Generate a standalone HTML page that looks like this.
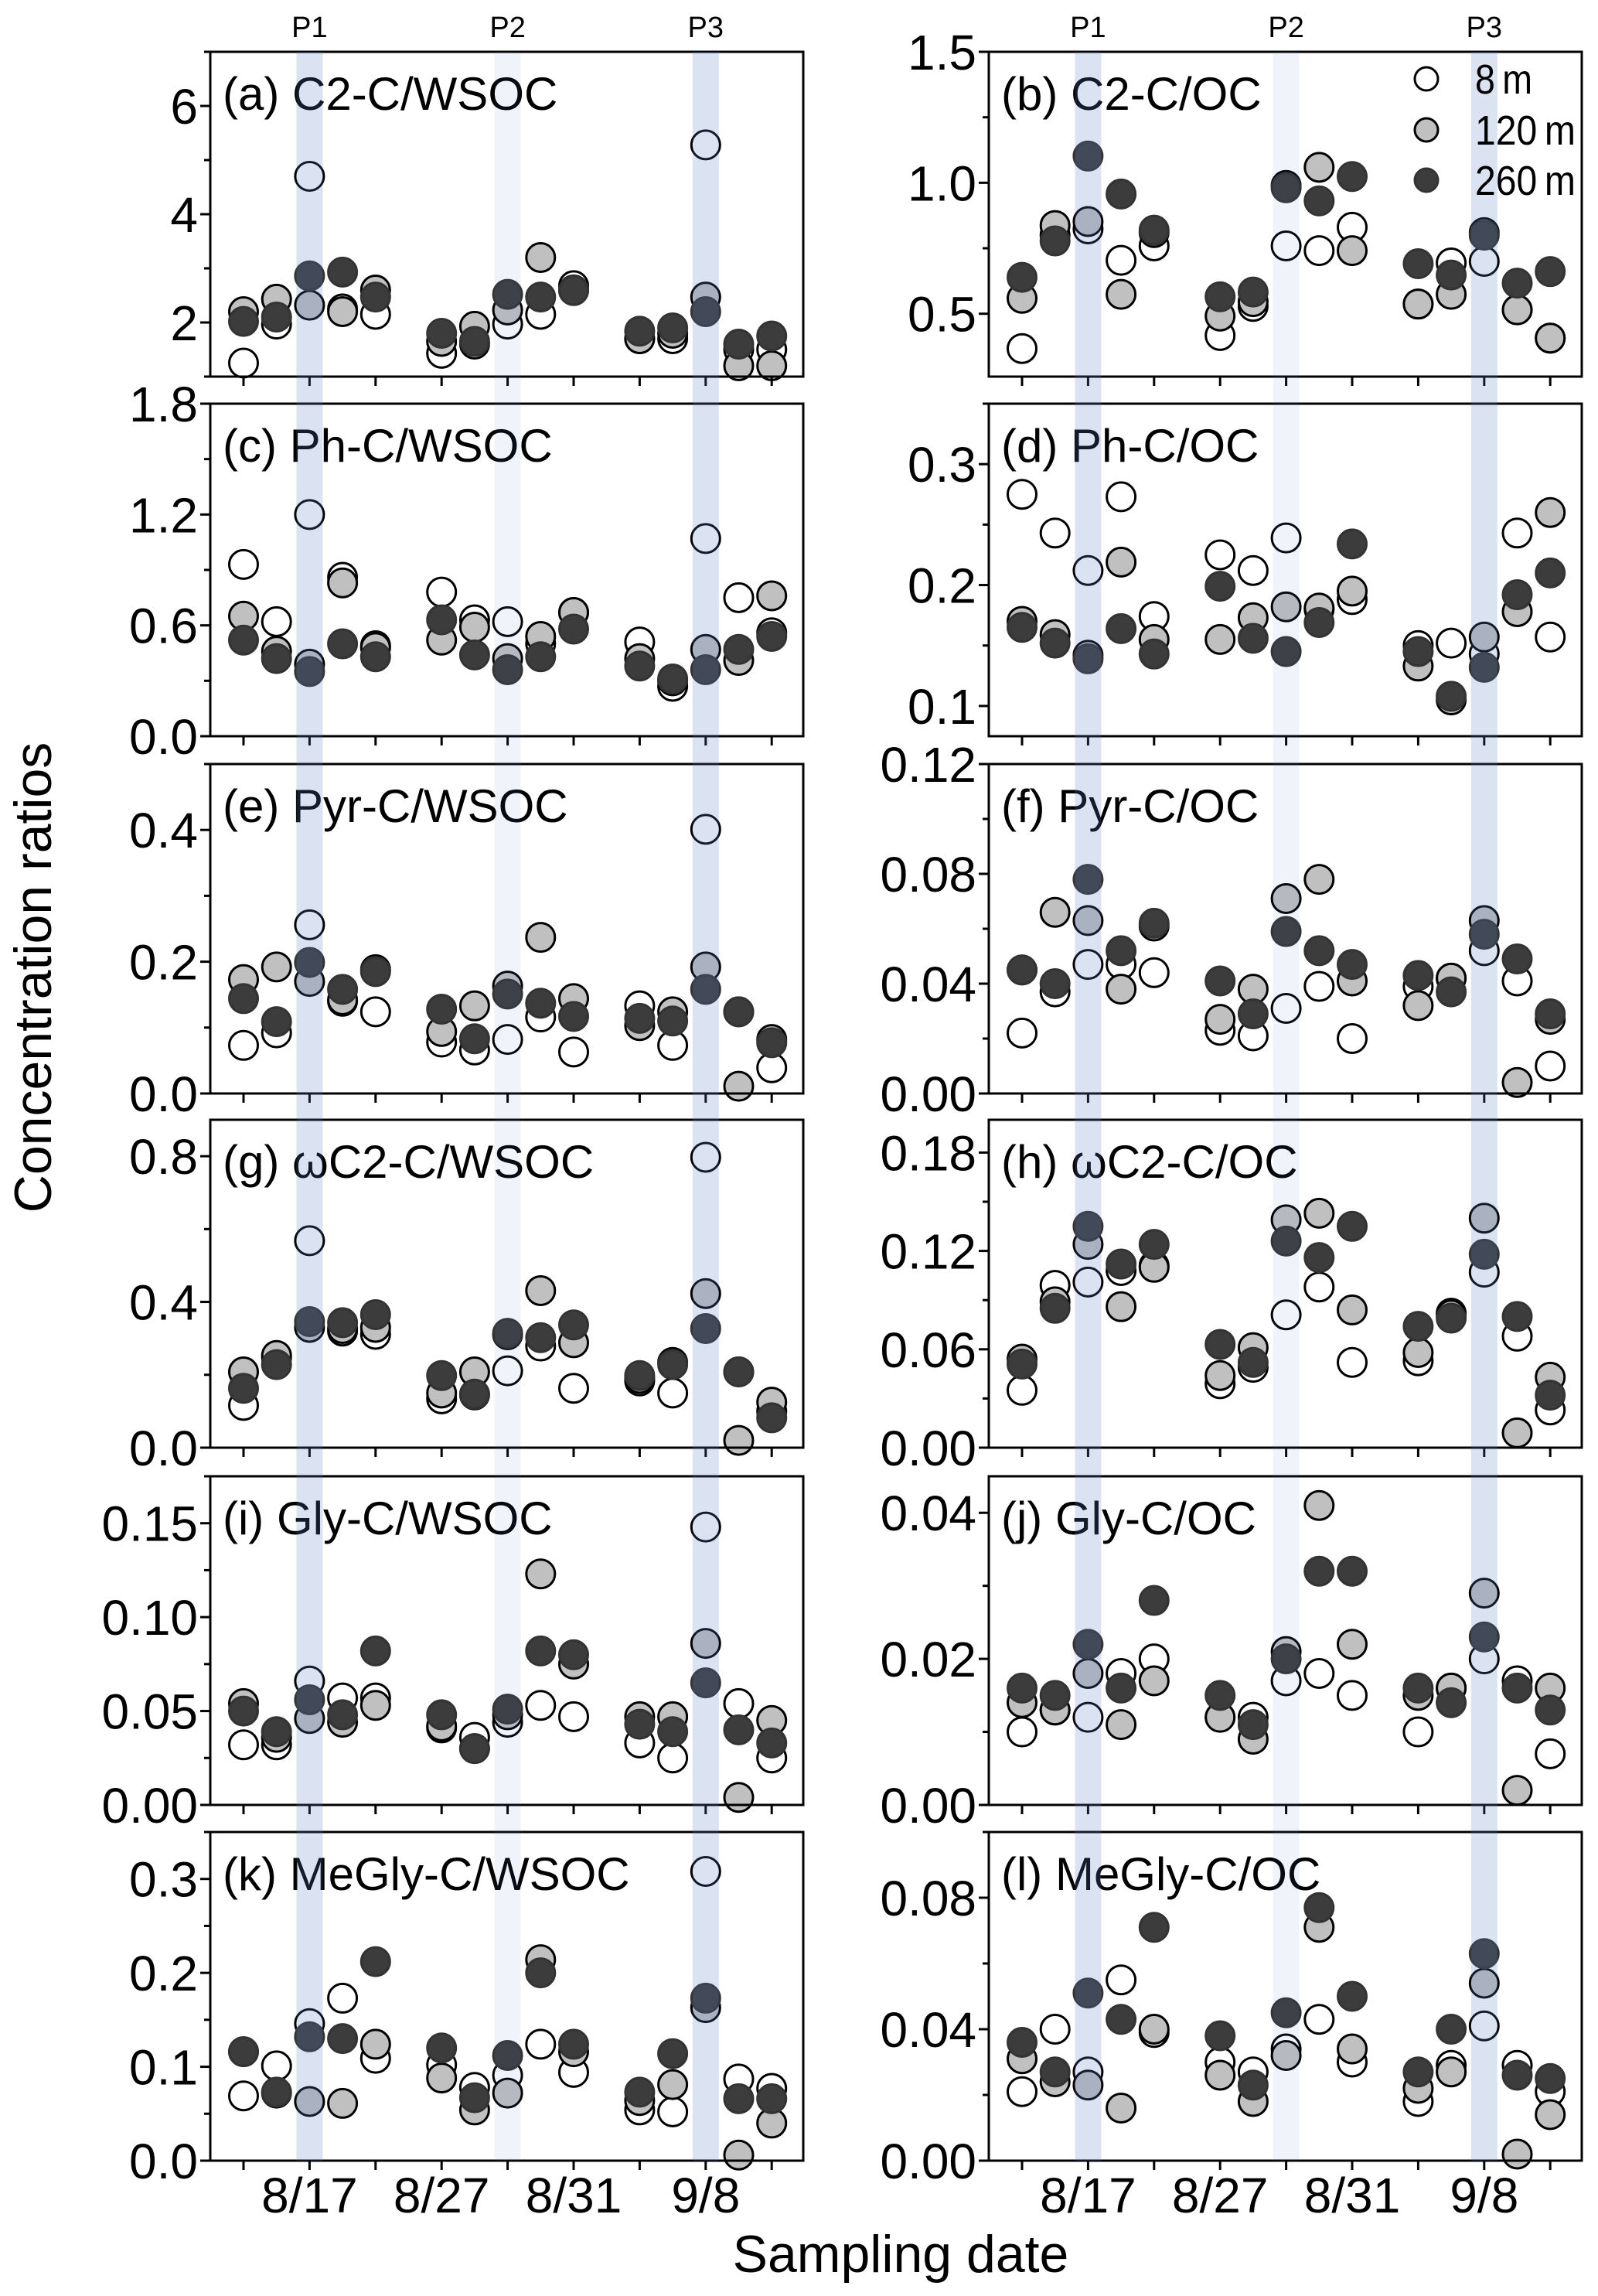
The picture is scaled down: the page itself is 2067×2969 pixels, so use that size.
<!DOCTYPE html>
<html><head><meta charset="utf-8"><style>
html,body{margin:0;padding:0;background:#fff;}
svg{display:block;font-family:"Liberation Sans",Arial,sans-serif;}
</style></head><body>
<svg id="fig" width="2067" height="2969" viewBox="0 0 2067 2969" xmlns="http://www.w3.org/2000/svg"></svg>
<script>
// ---- data ----
const xIdx = [0,1,2,3,4,6,7,8,9,10,12,13,14,15,16];
const xTickPos = [0,2,4,6,8,10,12,14,16];
const xTickLabels = ['','8/17','','8/27','','8/31','','9/8',''];
const periodLabels = ['P1','P2','P3'];
const periodIdx = [2,8,14];

const aWhite=[1.25,1.97,4.7,2.25,2.15,1.43,1.6,1.97,2.15,2.68,1.7,1.7,5.28,1.5,1.5];
const aGray=[2.2,2.43,2.32,2.2,2.6,1.65,1.93,2.23,3.2,2.6,1.7,1.8,2.47,1.2,1.2];
const aDark=[2.02,2.1,2.86,2.93,2.47,1.8,1.65,2.52,2.47,2.59,1.84,1.9,2.2,1.6,1.75];

const bWhite=[0.367,0.8,0.824,0.704,0.759,0.417,0.528,0.759,0.741,0.83,0.537,0.694,0.7,0.515,0.407];
const bGray=[0.559,0.837,0.852,0.574,0.81,0.491,0.546,0.99,1.059,0.741,0.537,0.574,0.81,0.515,0.407];
const bDark=[0.639,0.778,1.102,0.957,0.819,0.565,0.583,0.981,0.931,1.024,0.691,0.648,0.8,0.617,0.661];

const cWhite=[0.93,0.62,1.2,0.86,0.49,0.78,0.63,0.62,0.5,0.67,0.51,0.27,1.07,0.75,0.56];
const cGray=[0.65,0.46,0.39,0.83,0.48,0.52,0.59,0.42,0.54,0.67,0.42,0.3,0.47,0.41,0.76];
const cDark=[0.52,0.42,0.35,0.5,0.43,0.63,0.44,0.36,0.43,0.58,0.38,0.31,0.36,0.47,0.54];

const dWhite=[0.275,0.243,0.212,0.273,0.174,0.225,0.212,0.239,0.18,0.188,0.15,0.152,0.143,0.243,0.157];
const dGray=[0.17,0.159,0.142,0.219,0.155,0.155,0.173,0.182,0.181,0.195,0.133,0.105,0.157,0.178,0.26];
const dDark=[0.165,0.152,0.139,0.164,0.143,0.199,0.156,0.145,0.169,0.234,0.145,0.108,0.132,0.192,0.21];

const eWhite=[0.073,0.092,0.256,0.14,0.124,0.078,0.066,0.082,0.116,0.063,0.133,0.073,0.401,0.124,0.039];
const eGray=[0.173,0.192,0.17,0.142,0.188,0.094,0.133,0.163,0.237,0.144,0.103,0.124,0.192,0.011,0.082];
const eDark=[0.144,0.109,0.199,0.158,0.185,0.128,0.083,0.151,0.137,0.117,0.114,0.11,0.158,0.124,0.077];

const fWhite=[0.022,0.037,0.047,0.047,0.044,0.023,0.021,0.031,0.039,0.02,0.039,0.042,0.052,0.041,0.01];
const fGray=[0.045,0.066,0.063,0.038,0.061,0.027,0.038,0.071,0.078,0.041,0.032,0.042,0.063,0.004,0.027];
const fDark=[0.045,0.04,0.078,0.052,0.062,0.041,0.029,0.059,0.052,0.047,0.043,0.037,0.058,0.049,0.029];

const gWhite=[0.116,0.247,0.568,0.32,0.311,0.134,0.145,0.211,0.279,0.163,0.183,0.15,0.797,0.208,0.1];
const gGray=[0.208,0.253,0.33,0.327,0.33,0.15,0.208,0.31,0.431,0.288,0.19,0.234,0.423,0.02,0.125];
const gDark=[0.163,0.228,0.346,0.343,0.365,0.198,0.147,0.314,0.302,0.337,0.198,0.228,0.327,0.208,0.082];

const hWhite=[0.035,0.099,0.101,0.108,0.111,0.039,0.049,0.081,0.098,0.052,0.053,0.082,0.107,0.068,0.023];
const hGray=[0.054,0.089,0.124,0.086,0.11,0.044,0.061,0.139,0.143,0.084,0.058,0.081,0.14,0.009,0.043];
const hDark=[0.051,0.085,0.135,0.112,0.124,0.063,0.052,0.126,0.116,0.135,0.074,0.079,0.118,0.08,0.032];

const iWhite=[0.032,0.032,0.066,0.057,0.057,0.041,0.036,0.044,0.053,0.047,0.033,0.025,0.148,0.054,0.025];
const iGray=[0.054,0.036,0.046,0.044,0.053,0.042,0.03,0.048,0.123,0.075,0.047,0.047,0.086,0.004,0.045];
const iDark=[0.05,0.039,0.056,0.048,0.082,0.048,0.03,0.051,0.082,0.08,0.043,0.039,0.065,0.04,0.033];

const jWhite=[0.01,0.013,0.012,0.018,0.02,0.012,0.012,0.017,0.018,0.015,0.01,0.016,0.02,0.017,0.007];
const jGray=[0.014,0.013,0.018,0.011,0.017,0.012,0.009,0.021,0.041,0.022,0.015,0.016,0.029,0.002,0.016];
const jDark=[0.016,0.015,0.022,0.016,0.028,0.015,0.011,0.02,0.032,0.032,0.016,0.014,0.023,0.016,0.013];

const kWhite=[0.069,0.101,0.146,0.173,0.109,0.102,0.078,0.091,0.124,0.094,0.054,0.052,0.308,0.087,0.077];
const kGray=[0.116,0.072,0.063,0.061,0.124,0.088,0.054,0.072,0.214,0.116,0.064,0.081,0.163,0.006,0.04];
const kDark=[0.116,0.073,0.132,0.13,0.212,0.12,0.067,0.112,0.2,0.124,0.073,0.114,0.173,0.066,0.066];

const lWhite=[0.021,0.04,0.027,0.055,0.039,0.03,0.027,0.034,0.043,0.03,0.018,0.029,0.041,0.029,0.021];
const lGray=[0.031,0.024,0.023,0.016,0.04,0.026,0.018,0.032,0.071,0.034,0.022,0.027,0.054,0.002,0.014];
const lDark=[0.036,0.027,0.051,0.043,0.071,0.038,0.023,0.045,0.077,0.05,0.027,0.04,0.063,0.026,0.025];

// ---- layout ----
const NS='http://www.w3.org/2000/svg';
const svg=document.getElementById('fig');
const rowTop=[67,522,988,1448,1909,2369];
const rowBot=[487,952,1414,1872,2334,2794];
const colLeft=[272,1279];
const panelW=767;
const panels=[
 {id:'a',col:0,row:0,min:1,max:7,major:2,minor:1,dec:0,first:2,title:'(a) C2-C/WSOC',s:[aWhite,aGray,aDark]},
 {id:'b',col:1,row:0,min:0.26,max:1.5,major:0.5,minor:0.25,dec:1,first:0.5,title:'(b) C2-C/OC',s:[bWhite,bGray,bDark]},
 {id:'c',col:0,row:1,min:0,max:1.8,major:0.6,minor:0.3,dec:1,first:0,title:'(c) Ph-C/WSOC',s:[cWhite,cGray,cDark]},
 {id:'d',col:1,row:1,min:0.075,max:0.35,major:0.1,minor:0.05,dec:1,first:0.1,title:'(d) Ph-C/OC',s:[dWhite,dGray,dDark]},
 {id:'e',col:0,row:2,min:0,max:0.5,major:0.2,minor:0.1,dec:1,first:0,title:'(e) Pyr-C/WSOC',s:[eWhite,eGray,eDark]},
 {id:'f',col:1,row:2,min:0,max:0.12,major:0.04,minor:0.02,dec:2,first:0,title:'(f) Pyr-C/OC',s:[fWhite,fGray,fDark]},
 {id:'g',col:0,row:3,min:0,max:0.9,major:0.4,minor:0.2,dec:1,first:0,title:'(g) \u03c9C2-C/WSOC',s:[gWhite,gGray,gDark]},
 {id:'h',col:1,row:3,min:0,max:0.2,major:0.06,minor:0.03,dec:2,first:0,title:'(h) \u03c9C2-C/OC',s:[hWhite,hGray,hDark]},
 {id:'i',col:0,row:4,min:0,max:0.175,major:0.05,minor:0.025,dec:2,first:0,title:'(i) Gly-C/WSOC',s:[iWhite,iGray,iDark]},
 {id:'j',col:1,row:4,min:0,max:0.045,major:0.02,minor:0.01,dec:2,first:0,title:'(j) Gly-C/OC',s:[jWhite,jGray,jDark]},
 {id:'k',col:0,row:5,min:0,max:0.35,major:0.1,minor:0.05,dec:1,first:0,title:'(k) MeGly-C/WSOC',s:[kWhite,kGray,kDark]},
 {id:'l',col:1,row:5,min:0,max:0.1,major:0.04,minor:0.02,dec:2,first:0,title:'(l) MeGly-C/OC',s:[lWhite,lGray,lDark]}
];
const seriesFill=['#ffffff','#c0c0c0','#3c3c3c'];
const seriesStroke=['#000','#000','#333'];
const seriesName=['8m','120m','260m'];

function el(tag,attrs,parent){const e=document.createElementNS(NS,tag);for(const k in attrs)e.setAttribute(k,attrs[k]);(parent||svg).appendChild(e);return e;}
function xScale(col,p){return colLeft[col]+43+p*42.7;}
function yScale(P,v){const t=rowTop[P.row],b=rowBot[P.row];return b-(v-P.min)/(P.max-P.min)*(b-t);}

panels.forEach(P=>{
  const g=el('g',{});
  
  
  const L=colLeft[P.col],T=rowTop[P.row],B=rowBot[P.row];
  P.s.forEach((arr,si)=>{
    arr.forEach((v,i)=>{
      const c=el('circle',{cx:xScale(P.col,xIdx[i]),cy:yScale(P,v),r:18.5,fill:seriesFill[si],stroke:seriesStroke[si],'stroke-width':3},g);
      
      
    });
  });
  const fr=el('rect',{x:L,y:T,width:panelW,height:B-T,fill:'none',stroke:'#000','stroke-width':3},g);
  
  
  xTickPos.forEach(p=>{
    const x=xScale(P.col,p);
    const t=el('line',{x1:x,x2:x,y1:B,y2:B+12,stroke:'#000','stroke-width':3},g);
    
    
  });
  const eps=1e-9;
  let start=Math.ceil((P.min-eps)/P.minor)*P.minor;
  for(let v=start;v<=P.max+eps;v+=P.minor){
    const y=yScale(P,v);
    const isMajor=Math.abs(((v-P.first)/P.major)-Math.round((v-P.first)/P.major))<1e-6 && v>=P.first-eps;
    const t=el('line',{x1:L-(isMajor?13:8),x2:L,y1:y,y2:y,stroke:'#000','stroke-width':3},g);
    
    
    if(isMajor){
      const tx=el('text',{x:L-16,y:y+23,'text-anchor':'end','font-size':64,fill:'#000'},g);
      tx.textContent=v.toFixed(P.dec);
      
      
    }
  }
  const ti=el('text',{x:L+16,y:T+75,'font-size':60,fill:'#000'},g);
  ti.textContent=P.title;
  
  
});

[0,1].forEach(col=>{
  periodIdx.forEach((p,k)=>{
    const x=xScale(col,p);
    const r=el('rect',{x:x-17,y:rowTop[0],width:34,height:rowBot[5]-rowTop[0],fill:k===1?'rgba(90,125,190,0.09)':'rgba(90,125,190,0.22)'});
    
    
    const t=el('text',{x:x,y:48,'text-anchor':'middle','font-size':38,fill:'#000'});
    t.textContent=periodLabels[k];
    
    
  });
  xTickPos.forEach((p,i)=>{
    if(!xTickLabels[i])return;
    const t=el('text',{x:xScale(col,p),y:2861,'text-anchor':'middle','font-size':64,fill:'#000'});
    t.textContent=xTickLabels[i];
    
    
  });
});

// legend
const legY=[102,168,233];
const legText=['8\u2009m','120\u2009m','260\u2009m'];
const legLen=[74,130,130];
legY.forEach((y,i)=>{
  const c=el('circle',{cx:1845,cy:y,r:15,fill:seriesFill[i],stroke:seriesStroke[i],'stroke-width':3});
  
  
  const t=el('text',{x:1908,y:y+19,'font-size':54,fill:'#000',textLength:legLen[i],lengthAdjust:'spacingAndGlyphs'});
  t.textContent=legText[i];
  
  
});

const yt=el('text',{x:0,y:0,'font-size':68,'text-anchor':'middle',fill:'#000',transform:'translate(66,1264) rotate(-90)'});
yt.textContent='Concentration ratios';


const xt=el('text',{x:1165,y:2938,'font-size':68,'text-anchor':'middle',fill:'#000'});
xt.textContent='Sampling date';


</script>
</body></html>
